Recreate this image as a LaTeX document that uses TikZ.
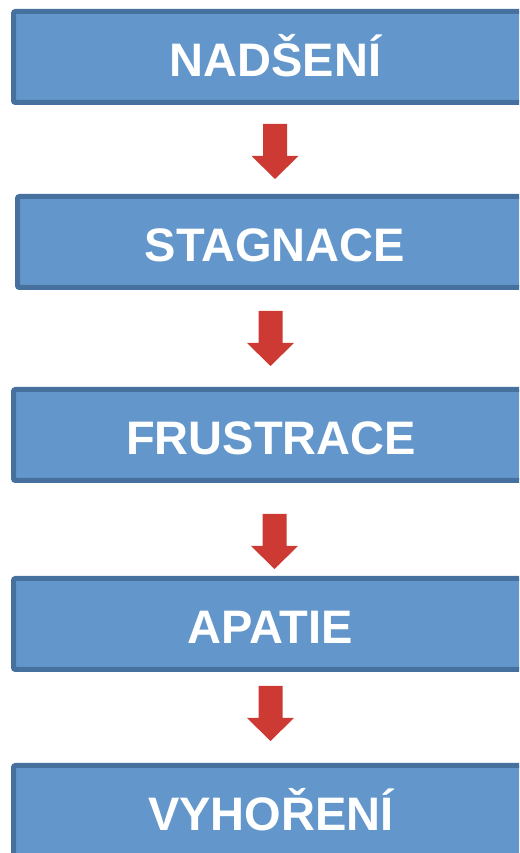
\documentclass[tikz,border=0pt]{standalone}
\usepackage{fontspec}
\setmainfont{Liberation Sans}
\definecolor{boxfill}{RGB}{99,151,203}
\definecolor{boxline}{RGB}{70,112,157}
\definecolor{arrowred}{RGB}{204,58,51}
\begin{document}
\begin{tikzpicture}[x=1pt,y=1pt,
  stage/.style={draw=boxline, fill=boxfill, line width=5pt, rounded corners=2pt,
    minimum height=91pt, inner sep=0pt, outer sep=0pt, text=white,
    font=\fontsize{47}{56}\selectfont\bfseries, text height=40pt, text depth=0pt},
  pics/downarr/.style={code={
    \fill[arrowred] (-12,0) -- (12,0) -- (12,-32) -- (23.5,-32) -- (0,-55)
      -- (-23.5,-32) -- (-12,-32) -- cycle;}}]
\useasboundingbox (0,0) rectangle (519,853);
\clip (0,0) rectangle (519,853);
\node[stage, minimum width=524pt] (b1) at (275.5,796) {NADŠENÍ};
\node[stage, minimum width=515pt] (b2) at (275,611) {STAGNACE};
\node[stage, minimum width=515pt] (b3) at (271,418) {FRUSTRACE};
\node[stage, minimum width=513pt] (b4) at (270,229) {APATIE};
\node[stage, minimum width=515pt] (b5) at (271,42) {VYHOŘENÍ};
\pic (a1) at (275,729) {downarr};
\pic (a2) at (270.5,542) {downarr};
\pic (a3) at (274.5,339) {downarr};
\pic (a4) at (270.5,167) {downarr};
\end{tikzpicture}
\end{document}
